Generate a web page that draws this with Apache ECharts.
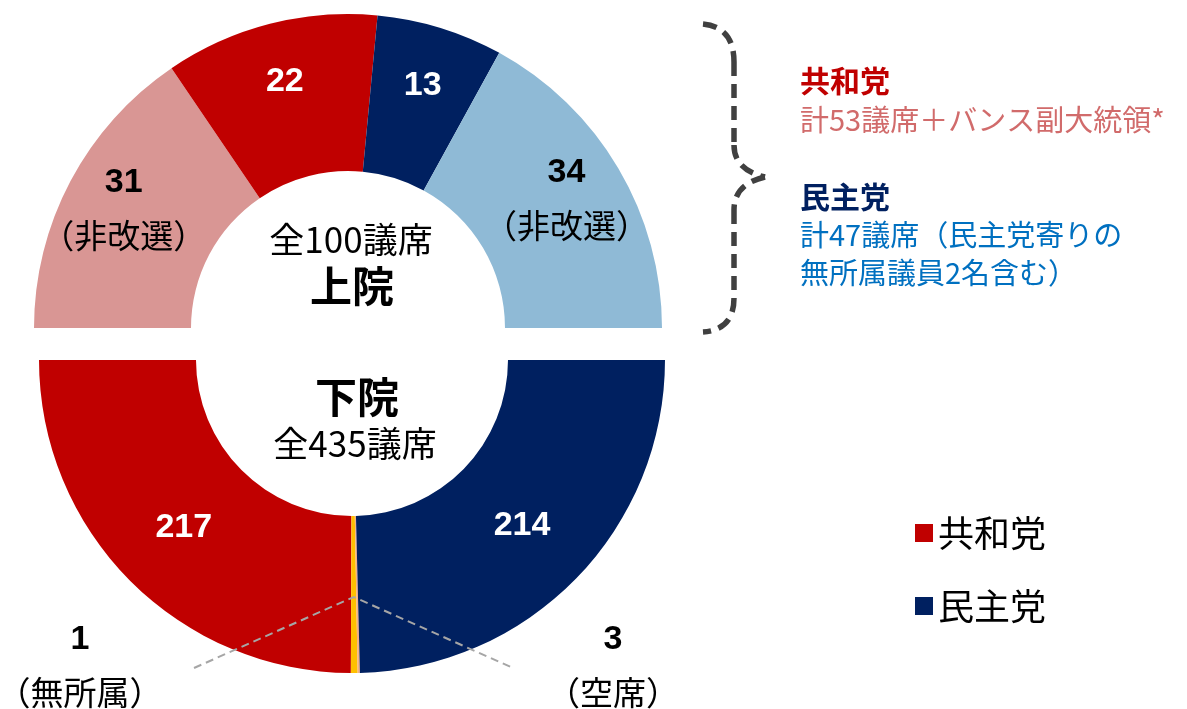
<!DOCTYPE html>
<html>
<head>
<meta charset="utf-8">
<script src="https://cdn.jsdelivr.net/npm/echarts@6/dist/echarts.min.js"></script>
<style>
  html, body { margin: 0; padding: 0; background: #fff; }
  #chart { width: 1187px; height: 709px; }
</style>
</head>
<body>
<div id="chart"></div>
<script>
// 上院（左から時計回り）
const senateNames = ['共和党（非改選）', '共和党', '民主党', '民主党（非改選）'];
const senateSeats = [31, 22, 13, 34];
const senateNotes = ['（非改選）', '', '', '（非改選）'];
// 下院（左から反時計回り）
const houseNames = ['共和党', '空席', '無所属', '民主党'];
const houseSeats = [217, 3, 1, 214];
const houseNotes = ['', '（空席）', '（無所属）', ''];
const legendNames = ['共和党', '民主党'];

const senateColors = ['#D99694', '#C00000', '#002060', '#8FBAD6'];
const senateLabelColors = ['#000', '#fff', '#fff', '#000'];
const houseColors = ['#C00000', '#FFC000', '#F4B183', '#002060'];

const JP = '"Noto Sans CJK JP", sans-serif';
const NUM = '"Liberation Sans", Arial, sans-serif';
const SENATE_C = [348, 328];
const HOUSE_C = [352, 360];

const chart = echarts.init(document.getElementById('chart'), null, { renderer: 'canvas' });

const numRich = {
  n: { fontFamily: NUM, fontWeight: 'bold', fontSize: 34, lineHeight: 53 },
  s: { fontFamily: JP, fontSize: 33, lineHeight: 53 }
};

function labelText(v, note) {
  return note ? '{n|' + v + '}\n{s|' + note + '}' : '{n|' + v + '}';
}

const senateData = senateSeats.map((v, i) => ({
  name: senateNames[i],
  value: v,
  itemStyle: { color: senateColors[i] },
  label: {
    formatter: labelText(v, senateNotes[i]),
    color: senateLabelColors[i],
    rich: numRich
  }
}));

const houseData = houseSeats.map((v, i) => {
  const small = !!houseNotes[i];
  return {
    name: houseNames[i],
    value: v,
    itemStyle: { color: houseColors[i] },
    label: {
      position: small ? 'outside' : 'inside',
      formatter: labelText(v, houseNotes[i]),
      color: small ? '#000' : '#fff',
      rich: numRich
    },
    labelLine: { show: false }
  };
});

// 下院の小さい区分の中心角（データから）
const houseTotal = houseSeats.reduce((a, b) => a + b, 0);
function houseMidPoint(i, r) {
  let before = 0;
  for (let k = 0; k < i; k++) before += houseSeats[k];
  const frac = (before + houseSeats[i] / 2) / houseTotal;
  const ang = (180 + frac * 180) * Math.PI / 180;
  return [HOUSE_C[0] + r * Math.cos(ang), HOUSE_C[1] - r * Math.sin(ang)];
}
// 小区分の引き出し線（中心からの半径237の点から左右へ）
const apex = houseMidPoint(1, 237);
const leaderStyle = { fill: 'none', stroke: '#A6A6A6', lineWidth: 2, lineDash: [8, 5] };

const braceStyle = { fill: 'none', stroke: '#404040', lineWidth: 5.5, lineDash: [14, 8] };

chart.setOption({
  animation: false,
  legend: {
    data: legendNames,
    orient: 'vertical',
    left: 910,
    top: 510,
    icon: 'rect',
    itemWidth: 18,
    itemHeight: 18,
    itemGap: 37,
    selectedMode: false,
    textStyle: { fontFamily: JP, fontSize: 36, color: '#000' }
  },
  series: [
    {
      type: 'pie',
      name: '下院',
      center: HOUSE_C,
      radius: [156, 313],
      startAngle: 180,
      endAngle: 360,
      clockwise: false,
      avoidLabelOverlap: false,
      silent: true,
      data: houseData,
      labelLayout: function (p) {
        if (!houseNotes[p.dataIndex]) return {};
        const onRight = p.dataIndex === 1;
        return {
          x: onRight ? 613 : 80,
          y: 666,
          align: 'center',
          verticalAlign: 'middle'
        };
      }
    },
    {
      type: 'pie',
      name: '上院',
      center: SENATE_C,
      radius: [157, 314],
      startAngle: 180,
      endAngle: 0,
      clockwise: true,
      avoidLabelOverlap: false,
      silent: true,
      label: { position: 'inside' },
      labelLine: { show: false },
      data: senateData,
      labelLayout: function (p) {
        const r = p.labelRect;
        const x = r.x + r.width / 2 - SENATE_C[0];
        const y = r.y + r.height / 2 - SENATE_C[1];
        const s = 254 / Math.hypot(x, y);
        return { dx: x * s - x, dy: y * s - y };
      }
    }
  ],
  graphic: [
    { type: 'text', style: { text: '全100議席', x: 351, y: 240, align: 'center', verticalAlign: 'middle', fontFamily: JP, fontSize: 35, fill: '#000' } },
    { type: 'text', style: { text: '上院', x: 352, y: 286, align: 'center', verticalAlign: 'middle', fontFamily: JP, fontWeight: 'bold', fontSize: 42, fill: '#000' } },
    { type: 'text', style: { text: '下院', x: 357, y: 397, align: 'center', verticalAlign: 'middle', fontFamily: JP, fontWeight: 'bold', fontSize: 42, fill: '#000' } },
    { type: 'text', style: { text: '全435議席', x: 355, y: 444, align: 'center', verticalAlign: 'middle', fontFamily: JP, fontSize: 35, fill: '#000' } },
    // 引き出し線
    { type: 'polyline', z: 50, shape: { points: [[194, 668], apex, [513, 668]] }, style: leaderStyle },
    // 中括弧
    { type: 'bezierCurve', shape: { x1: 703, y1: 24, cpx1: 734, cpy1: 27, x2: 734, y2: 62 }, style: braceStyle },
    { type: 'line', shape: { x1: 734, y1: 62, x2: 734, y2: 145 }, style: braceStyle },
    { type: 'bezierCurve', shape: { x1: 734, y1: 145, cpx1: 734, cpy1: 170, x2: 765, y2: 177 }, style: braceStyle },
    { type: 'bezierCurve', shape: { x1: 765, y1: 177, cpx1: 734, cpy1: 184, x2: 734, y2: 210 }, style: braceStyle },
    { type: 'line', shape: { x1: 734, y1: 210, x2: 734, y2: 298 }, style: braceStyle },
    { type: 'bezierCurve', shape: { x1: 734, y1: 298, cpx1: 734, cpy1: 330, x2: 703, y2: 332 }, style: braceStyle },
    {
      type: 'text',
      style: {
        x: 800, y: 61,
        text: '{h|共和党}\n{t|計53議席＋バンス副大統領*}',
        rich: {
          h: { fontFamily: JP, fontWeight: 'bold', fontSize: 30, fill: '#C00000', lineHeight: 39 },
          t: { fontFamily: JP, fontSize: 29, fill: '#D16B6B', lineHeight: 39 }
        }
      }
    },
    {
      type: 'text',
      style: {
        x: 800, y: 178,
        text: '{h|民主党}\n{t|計47議席（民主党寄りの}\n{t|無所属議員2名含む）}',
        rich: {
          h: { fontFamily: JP, fontWeight: 'bold', fontSize: 30, fill: '#002060', lineHeight: 38 },
          t: { fontFamily: JP, fontSize: 29, fill: '#0070C0', lineHeight: 38 }
        }
      }
    }
  ]
});
</script>
</body>
</html>
